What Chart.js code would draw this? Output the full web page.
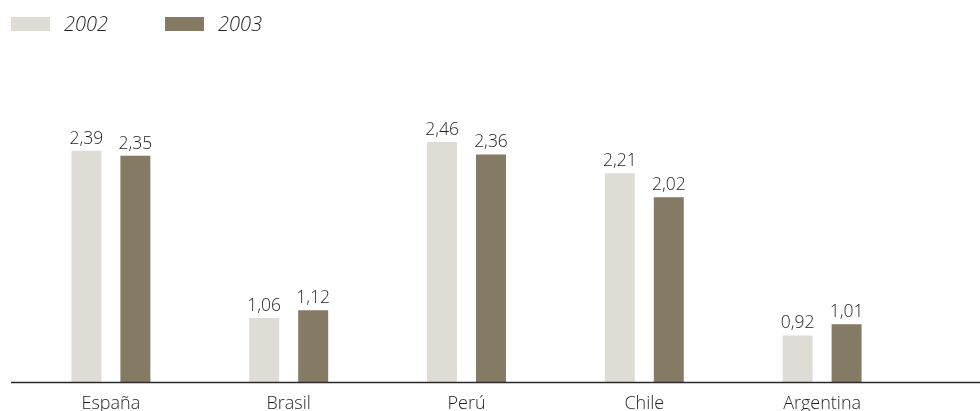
<!DOCTYPE html>
<html>
<head>
<meta charset="utf-8">
<script src="https://cdn.jsdelivr.net/npm/chart.js@4"></script>
<style>
  html, body { margin: 0; padding: 0; background: #ffffff; }
  #wrap { position: relative; width: 980px; height: 411px; overflow: hidden; }
  canvas { position: absolute; left: 0; top: 0; }
  .lg { position: absolute; font-family: "Open Sans", sans-serif; font-weight: 300; font-style: italic; font-size: 20px; color: #222222; line-height: 20px; }
  .sw { position: absolute; width: 39px; height: 14px; }
</style>
</head>
<body>
<div id="wrap">
  <canvas id="c" width="980" height="411"></canvas>
  <div class="sw" id="sw0" style="left:11px; top:17px;"></div>
  <div class="lg" id="lg0" style="left:64px; top:14px;"></div>
  <div class="sw" id="sw1" style="left:165px; top:17px;"></div>
  <div class="lg" id="lg1" style="left:218px; top:14px;"></div>
</div>
<script>
const categories = ["España", "Brasil", "Perú", "Chile", "Argentina"];
const seriesNames = ["2002", "2003"];
const values2002 = [2.39, 1.06, 2.46, 2.21, 0.92];
const values2003 = [2.35, 1.12, 2.36, 2.02, 1.01];
const colors = ["#dfdcd5", "#857b65"];

document.getElementById('sw0').style.background = colors[0];
document.getElementById('sw1').style.background = colors[1];
document.getElementById('lg0').textContent = seriesNames[0];
document.getElementById('lg1').textContent = seriesNames[1];

const fmt = v => v.toFixed(2).replace('.', ',');

const valueLabels = {
  id: 'valueLabels',
  afterDatasetsDraw(chart) {
    const ctx = chart.ctx;
    ctx.save();
    ctx.font = '300 17.5px "Open Sans", sans-serif';
    ctx.fillStyle = '#1f1f1f';
    ctx.textAlign = 'center';
    ctx.textBaseline = 'alphabetic';
    chart.data.datasets.forEach((ds, di) => {
      const meta = chart.getDatasetMeta(di);
      meta.data.forEach((bar, i) => {
        ctx.fillText(fmt(ds.data[i]), bar.x, bar.y - 7);
      });
    });
    ctx.restore();
  }
};

const baseLine = {
  id: 'baseLine',
  afterDraw(chart) {
    const ctx = chart.ctx;
    const y = chart.chartArea.bottom + 0.5;
    ctx.save();
    ctx.strokeStyle = '#2b2b2b';
    ctx.lineWidth = 1.3;
    ctx.beginPath();
    ctx.moveTo(11, y);
    ctx.lineTo(chart.width, y);
    ctx.stroke();
    ctx.restore();
  }
};

new Chart(document.getElementById('c'), {
  type: 'bar',
  data: {
    labels: categories,
    datasets: [
      { label: seriesNames[0], data: values2002, backgroundColor: colors[0], barPercentage: 0.612, categoryPercentage: 0.551 },
      { label: seriesNames[1], data: values2003, backgroundColor: colors[1], barPercentage: 0.612, categoryPercentage: 0.551 }
    ]
  },
  options: {
    responsive: false,
    animation: false,
    layout: { padding: { left: 22, right: 69, top: 74, bottom: 0 } },
    plugins: { legend: { display: false }, tooltip: { enabled: false } },
    scales: {
      x: {
        grid: { display: false },
        border: { display: false },
        ticks: { color: '#1f1f1f', font: { family: '"Open Sans", sans-serif', size: 18, weight: 300 }, padding: 3 },
        afterFit(scale) { scale.height = 29; }
      },
      y: { display: false, min: 0.55, max: 3.0 }
    }
  },
  plugins: [valueLabels, baseLine]
});
</script>
</body>
</html>
